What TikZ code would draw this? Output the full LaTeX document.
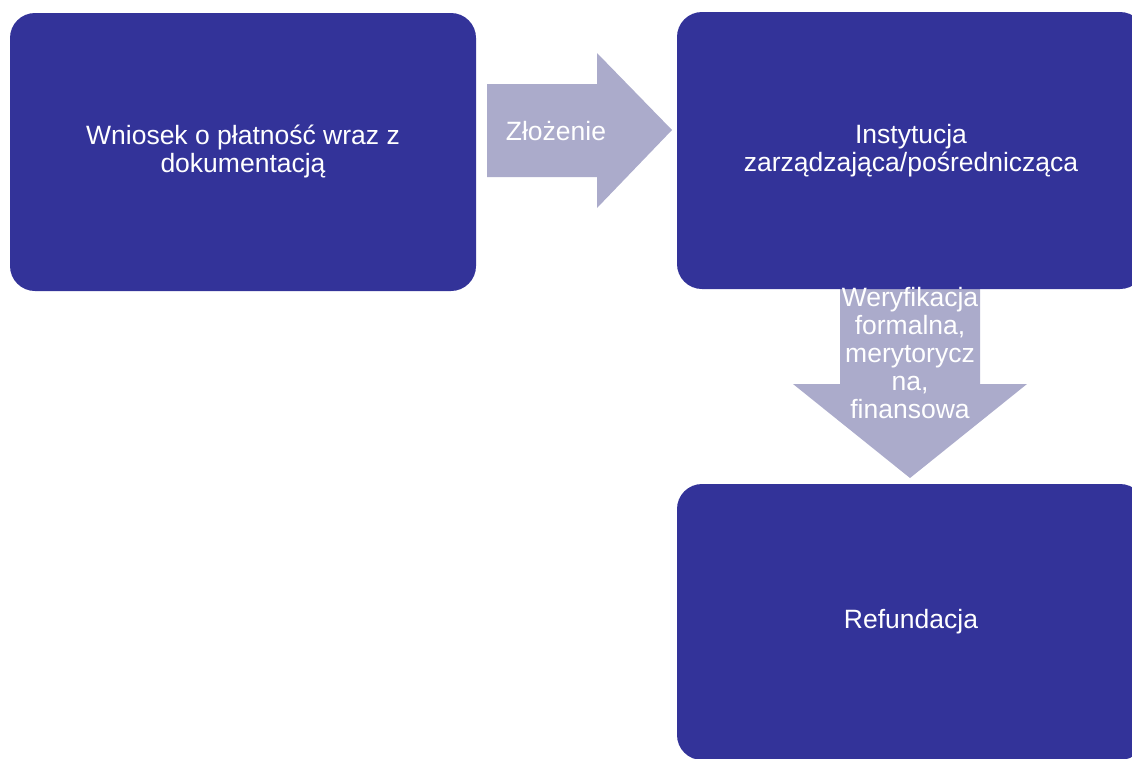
\documentclass[tikz,border=0pt]{standalone}
\usepackage{fontspec}
\setmainfont{Liberation Sans}

\definecolor{boxblue}{RGB}{51,51,153}
\definecolor{arrowgray}{RGB}{171,171,203}

\tikzset{
  stagebox/.style={fill=boxblue, rounded corners=25pt, text=white, align=center, inner sep=0pt},
  arrowtext/.style={text=white, align=center, inner sep=0pt}
}

\begin{document}
\begin{tikzpicture}[x=1pt,y=-1pt,font=\fontsize{26.5}{28}\selectfont]
\useasboundingbox (0,0) rectangle (1132,758);

% block arrows first, the boxes lie over them
\fill[arrowgray] (487,84) -- (597,84) -- (597,53) -- (672,130) -- (597,208) -- (597,177) -- (487,177) -- cycle;
\fill[arrowgray] (840,282) -- (980,282) -- (980,384) -- (1027,384) -- (910,478) -- (793,384) -- (840,384) -- cycle;

\node[stagebox, minimum width=466pt, minimum height=278pt] (W) at (243,152) {Wniosek o płatność wraz z\\dokumentacją};
\node[stagebox, minimum width=468pt, minimum height=277pt] (I) at (911,150.5) {Instytucja\\zarządzająca/pośrednicząca};
\node[stagebox, minimum width=468pt, minimum height=276pt] (R) at (911,622) {Refundacja};

\node[arrowtext] (Z) at (556,131) {Złożenie};
\node[arrowtext] (V) at (910,353) {Weryfikacja\\formalna,\\merytorycz\\na,\\finansowa};
\end{tikzpicture}
\end{document}
